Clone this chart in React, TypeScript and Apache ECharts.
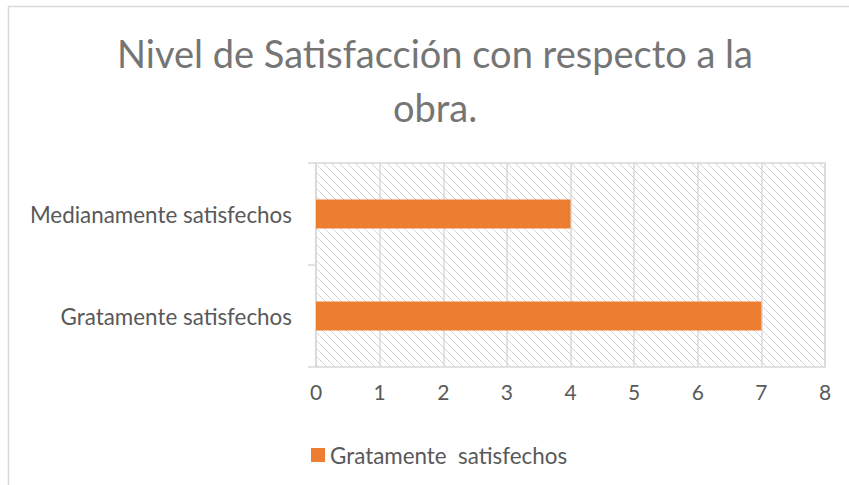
import React, { useEffect, useRef } from 'react';
import * as echarts from 'echarts';

const categories = ['Gratamente satisfechos', 'Medianamente satisfechos'];
const values = [7, 4];
const seriesName = 'Gratamente  satisfechos';
const xMin = 0;
const xMax = 8;
const xStep = 1;
const titleText = 'Nivel de Satisfacción con respecto a la\nobra.';

function makeHatch(): HTMLCanvasElement {
  const c = document.createElement('canvas');
  c.width = 8;
  c.height = 8;
  const ctx = c.getContext('2d')!;
  ctx.fillStyle = '#ffffff';
  ctx.fillRect(0, 0, 8, 8);
  for (let i = 0; i < 8; i++) {
    ctx.fillStyle = i % 2 === 0 ? '#c8c8c8' : '#e0e0e0';
    ctx.fillRect(i, i, 1, 1);
  }
  return c;
}

export default function App() {
  const ref = useRef<HTMLDivElement>(null);
  useEffect(() => {
    document.body.style.margin = '0';
    const chart = echarts.init(ref.current!, undefined, { renderer: 'svg' });
    const font = 'Lato';
    chart.setOption({
      animation: false,
      textStyle: { fontFamily: font },
      title: {
        text: titleText,
        left: 430,
        top: 21,
        textAlign: 'center',
        textStyle: { fontFamily: font, fontSize: 38, fontWeight: 'normal', color: '#757575', lineHeight: 54 },
      },
      graphic: [
        {
          type: 'rect',
          shape: { x: 8.5, y: 6.5, width: 900, height: 600 },
          style: { fill: 'none', stroke: '#d9d9d9', lineWidth: 1.5 },
          silent: true,
          z: -10,
        },
      ],
      grid: {
        left: 316,
        right: 24,
        top: 163,
        bottom: 118,
        show: true,
        backgroundColor: { image: makeHatch(), repeat: 'repeat', imageWidth: 8, imageHeight: 8 },
        borderColor: '#d9d9d9',
        borderWidth: 1.5,
      },
      xAxis: {
        type: 'value',
        min: xMin,
        max: xMax,
        interval: xStep,
        axisLine: { show: false },
        axisTick: { show: false },
        axisLabel: { fontSize: 21, color: '#595959', margin: 14, fontFamily: font },
        splitLine: { show: true, lineStyle: { color: '#d9d9d9', width: 1.5 } },
      },
      yAxis: {
        type: 'category',
        data: categories,
        axisLine: { show: false },
        axisTick: { show: true, length: 8, lineStyle: { color: '#d9d9d9', width: 1.5 } },
        axisLabel: { fontSize: 22.4, color: '#595959', margin: 24, fontFamily: font },
      },
      legend: {
        data: [seriesName],
        left: 306,
        top: 439,
        itemWidth: 14,
        itemHeight: 14,
        icon: 'rect',
        textStyle: { fontSize: 22.4, color: '#595959', fontFamily: font },
      },
      series: [
        {
          name: seriesName,
          type: 'bar',
          data: values,
          barWidth: 29,
          itemStyle: { color: '#ED7D31' },
        },
      ],
    });
    return () => chart.dispose();
  }, []);
  return <div ref={ref} style={{ width: 849, height: 485 }} />;
}
